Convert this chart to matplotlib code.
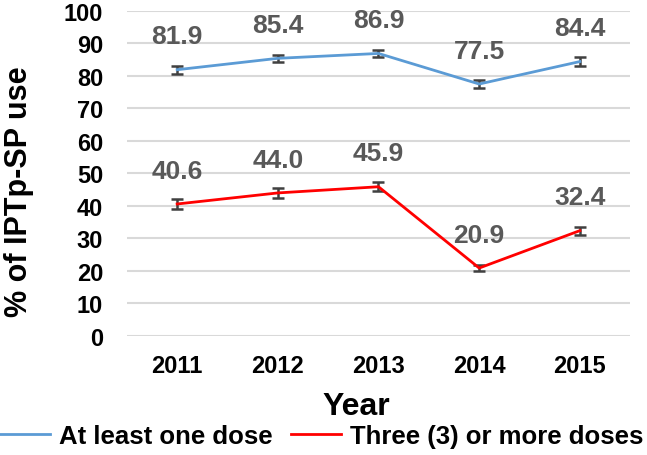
import matplotlib.pyplot as plt
import numpy as np

plt.rcParams['font.family'] = ['Liberation Sans', 'DejaVu Sans']
plt.rcParams['font.weight'] = 'bold'

years = ['2011', '2012', '2013', '2014', '2015']
one_dose = [81.9, 85.4, 86.9, 77.5, 84.4]
three_dose = [40.6, 44.0, 45.9, 20.9, 32.4]
one_err = [1.2, 1.1, 1.0, 1.2, 1.3]
three_err = [1.4, 1.5, 1.4, 1.0, 1.2]

fig = plt.figure(figsize=(6.47, 4.56), dpi=100)
ax = fig.add_axes([0.196, 0.261, 0.778, 0.713])
x = np.arange(len(years))

ax.errorbar(x, one_dose, yerr=one_err, color='#5B9BD5', lw=2, ecolor='#404040',
            elinewidth=1.8, capsize=4.5, capthick=1.8, label='At least one dose', zorder=3)
ax.errorbar(x, three_dose, yerr=three_err, color='#FF0000', lw=2, ecolor='#404040',
            elinewidth=1.8, capsize=4.5, capthick=1.8, label='Three (3) or more doses', zorder=3)

for xi, v in zip(x, one_dose):
    ax.annotate(f'{v:.1f}', (xi, v), xytext=(0, 24), textcoords='offset points',
                ha='center', va='center', fontsize=19, color='#595959', fontweight='bold')
for xi, v in zip(x, three_dose):
    ax.annotate(f'{v:.1f}', (xi, v), xytext=(0, 24), textcoords='offset points',
                ha='center', va='center', fontsize=19, color='#595959', fontweight='bold')

ax.set_xlim(-0.5, 4.5)
ax.set_ylim(0, 100)
ax.set_yticks(range(0, 101, 10))
ax.set_xticks(x)
ax.set_xticklabels(years)
ax.tick_params(axis='both', length=0)
ax.tick_params(axis='x', pad=13, labelsize=17)
ax.tick_params(axis='y', pad=17, labelsize=17)
ax.grid(axis='y', color='#D9D9D9', lw=1.5)
ax.set_axisbelow(True)
for s in ax.spines.values():
    s.set_visible(False)

ax.set_xlabel('Year', fontsize=23, fontweight='bold')
ax.xaxis.set_label_coords(0.455, -0.168)
ax.set_ylabel('% of IPTp-SP use', fontsize=22, fontweight='bold')
ax.yaxis.set_label_coords(-0.185, 0.446)

handles = [plt.Line2D([], [], color='#5B9BD5', lw=2),
           plt.Line2D([], [], color='#FF0000', lw=2)]
fig.legend(handles, ['At least one dose', 'Three (3) or more doses'], loc='center',
           bbox_to_anchor=(0.497, 0.042), ncol=2, frameon=False, fontsize=18.5,
           handlelength=1.95, columnspacing=0.7, handletextpad=0.35, borderpad=0)

fig.savefig('out.png', dpi=100)
